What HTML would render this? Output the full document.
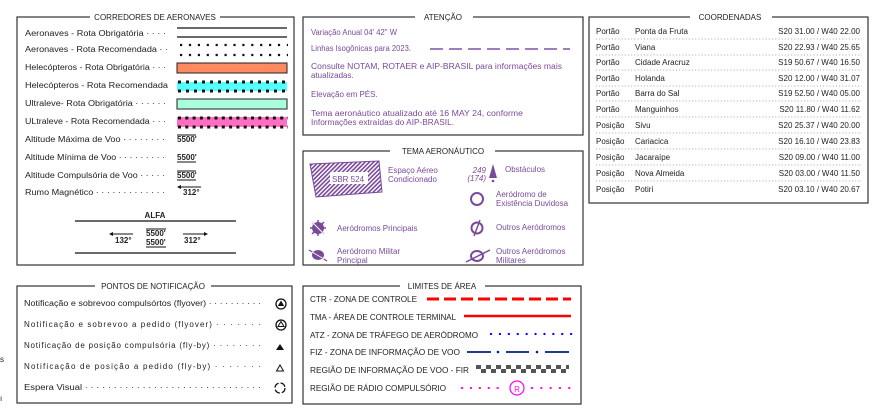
<!DOCTYPE html>
<html><head><meta charset="utf-8"><style>
html,body{margin:0;padding:0;background:#fff;width:876px;height:416px;overflow:hidden}
svg{display:block}
text{font-family:"Liberation Sans",sans-serif;font-size:8px;fill:#222}
.p{fill:#7a4a9a}
.b{font-weight:bold}
</style></head><body>
<svg width="876" height="416" viewBox="0 0 876 416">
<defs>
<pattern id="h" width="3" height="3" patternUnits="userSpaceOnUse" patternTransform="rotate(45)"><rect width="3" height="3" fill="#fff"/><rect width="1.6" height="3" fill="#7a4a9a"/></pattern>
<pattern id="chk" x="476" y="365" width="10" height="8" patternUnits="userSpaceOnUse"><rect width="10" height="8" fill="#fff"/><rect width="5" height="4" fill="#555"/><rect x="5" y="4" width="5" height="4" fill="#555"/></pattern>
</defs>
<g fill="none" stroke="#333" stroke-width="1.2">
<rect x="17" y="17" width="277" height="248"/>
<rect x="303" y="17" width="280" height="118"/>
<rect x="303" y="151" width="280" height="114"/>
<rect x="589" y="17" width="279" height="186"/>
<rect x="17" y="286" width="275" height="117"/>
<rect x="303" y="286" width="278" height="118"/>
</g>
<!-- titles -->
<rect x="90" y="12" width="130" height="10" fill="#fff"/><text x="155" y="20" text-anchor="middle">CORREDORES DE AERONAVES</text>
<rect x="415" y="12" width="58" height="10" fill="#fff"/><text x="443" y="20" text-anchor="middle">ATENÇÃO</text>
<rect x="390" y="146" width="105" height="10" fill="#fff"/><text x="443" y="154" text-anchor="middle">TEMA AERONÁUTICO</text>
<rect x="690" y="12" width="82" height="10" fill="#fff"/><text x="730" y="20" text-anchor="middle">COORDENADAS</text>
<rect x="95" y="281" width="116" height="10" fill="#fff"/><text x="153" y="289" text-anchor="middle">PONTOS DE NOTIFICAÇÃO</text>
<rect x="400" y="281" width="85" height="10" fill="#fff"/><text x="442" y="289" text-anchor="middle">LIMITES DE ÁREA</text>

<!-- corredores -->
<text x="25" y="36" textLength="141" lengthAdjust="spacingAndGlyphs">Aeronaves - Rota Obrigatória · · · ·</text>
<text x="25" y="52" textLength="143" lengthAdjust="spacingAndGlyphs">Aeronaves - Rota Recomendada · ·</text>
<text x="25" y="70" textLength="141" lengthAdjust="spacingAndGlyphs">Helecópteros - Rota Obrigatória · · ·</text>
<text x="25" y="88" textLength="143" lengthAdjust="spacingAndGlyphs">Helecópteros - Rota Recomendada</text>
<text x="25" y="106" textLength="141" lengthAdjust="spacingAndGlyphs">Ultraleve- Rota Obrigatória · · · · · ·</text>
<text x="25" y="124" textLength="141" lengthAdjust="spacingAndGlyphs">ULtraleve - Rota Recomendada · · ·</text>
<text x="25" y="142" textLength="140" lengthAdjust="spacingAndGlyphs">Altitude Máxima de Voo · · · · · · · ·</text>
<text x="25" y="160" textLength="140" lengthAdjust="spacingAndGlyphs">Altitude Mínima de Voo · · · · · · · · ·</text>
<text x="25" y="178" textLength="140" lengthAdjust="spacingAndGlyphs">Altitude Compulsória de Voo · · · · ·</text>
<text x="25" y="195" textLength="140" lengthAdjust="spacingAndGlyphs">Rumo Magnético · · · · · · · · · · · · ·</text>
<g stroke="#111" stroke-width="1.2">
<line x1="177" y1="28" x2="287" y2="28"/><line x1="177" y1="37" x2="287" y2="37"/>
</g>
<line x1="180" y1="45" x2="288" y2="45" stroke="#111" stroke-width="2.2" stroke-dasharray="2.2 6.7"/>
<line x1="180" y1="55" x2="288" y2="55" stroke="#111" stroke-width="2.2" stroke-dasharray="2.2 6.7"/>
<rect x="177" y="63" width="110" height="10" fill="#ff8a60" stroke="#222" stroke-width="1"/>
<rect x="177" y="82" width="110" height="9" fill="#55ffff"/>
<line x1="178" y1="82" x2="288" y2="82" stroke="#111" stroke-width="3" stroke-dasharray="3 5"/>
<line x1="178" y1="91" x2="288" y2="91" stroke="#111" stroke-width="3" stroke-dasharray="3 5"/>
<rect x="177" y="99" width="110" height="10" fill="#aaffdd" stroke="#222" stroke-width="1"/>
<rect x="177" y="117" width="110" height="10" fill="#ff6ec0"/>
<line x1="178" y1="118" x2="288" y2="118" stroke="#111" stroke-width="3" stroke-dasharray="3 4.3"/>
<line x1="178" y1="127" x2="288" y2="127" stroke="#111" stroke-width="3" stroke-dasharray="3 4.3"/>
<text x="177" y="142" class="b" font-size="7">5500'</text><line x1="177" y1="135" x2="196" y2="135" stroke="#111"/>
<text x="177" y="160" class="b" font-size="7">5500'</text><line x1="177" y1="162" x2="196" y2="162" stroke="#111"/>
<text x="177" y="178" class="b" font-size="7">5500'</text><line x1="177" y1="171" x2="196" y2="171" stroke="#111"/><line x1="177" y1="180" x2="196" y2="180" stroke="#111"/>
<line x1="178" y1="187" x2="201" y2="187" stroke="#111"/><path d="M177 187 l4 -2 v4z" fill="#111"/>
<text x="183" y="195" class="b" font-size="7">312°</text>
<text x="155" y="218" class="b" text-anchor="middle" font-size="7">ALFA</text>
<line x1="75" y1="221" x2="236" y2="221" stroke="#111" stroke-width="1.2"/>
<line x1="75" y1="253" x2="236" y2="253" stroke="#111" stroke-width="1.2"/>
<text x="146" y="236" class="b" font-size="7">5500'</text><line x1="146" y1="229" x2="166" y2="229" stroke="#111"/>
<text x="146" y="245" class="b" font-size="7">5500'</text><line x1="146" y1="247" x2="166" y2="247" stroke="#111"/>
<line x1="110" y1="234" x2="133" y2="234" stroke="#111"/><path d="M109 234 l4 -2 v4z" fill="#111"/>
<text x="115" y="243" class="b" font-size="7">132°</text>
<line x1="183" y1="234" x2="206" y2="234" stroke="#111"/><path d="M208 234 l-4 -2 v4z" fill="#111"/>
<text x="184" y="243" class="b" font-size="7">312°</text>

<!-- atencao -->
<text x="311" y="35" class="p" textLength="86" lengthAdjust="spacingAndGlyphs">Variação Anual  04' 42'' W</text>
<text x="311" y="51" class="p" textLength="100" lengthAdjust="spacingAndGlyphs">Linhas Isogônicas para 2023.</text>
<line x1="430" y1="49" x2="570" y2="49" stroke="#a07cc0" stroke-width="2" stroke-dasharray="13 6"/>
<text x="311" y="69" class="p" textLength="251" lengthAdjust="spacingAndGlyphs">Consulte NOTAM, ROTAER e AIP-BRASIL para informações mais</text>
<text x="311" y="78" class="p">atualizadas.</text>
<text x="311" y="97" class="p">Elevação em PÉS.</text>
<text x="311" y="116" class="p" textLength="212" lengthAdjust="spacingAndGlyphs">Tema aeronáutico atualizado até 16 MAY 24, conforme</text>
<text x="311" y="125" class="p" textLength="143" lengthAdjust="spacingAndGlyphs">Informações extraídas do AIP-BRASIL.</text>

<!-- tema -->
<polygon points="310,164 379,161 382,192 316,197" fill="url(#h)" stroke="#7a4a9a"/>
<rect x="330" y="172" width="38" height="12" fill="#fff"/>
<text x="332" y="182" class="p" font-size="9">SBR 524</text>
<text x="388" y="173" class="p">Espaço Aéreo</text>
<text x="388" y="182" class="p">Condicionado</text>
<text x="486" y="173" class="p" font-style="italic" text-anchor="end" font-size="7">249</text>
<text x="486" y="181" class="p" font-style="italic" text-anchor="end" font-size="7">(174)</text>
<path d="M493 164 l-4 14 h8z" fill="#7a4a9a"/><circle cx="493" cy="181" r="1.3" fill="#7a4a9a"/>
<text x="505" y="172" class="p">Obstáculos</text>
<circle cx="477" cy="199" r="6" fill="none" stroke="#7a4a9a" stroke-width="2"/>
<text x="496" y="197" class="p">Aeródromo de</text>
<text x="496" y="206" class="p">Existência Duvidosa</text>
<circle cx="477" cy="228" r="5.5" fill="none" stroke="#7a4a9a" stroke-width="2"/>
<line x1="480" y1="220" x2="474" y2="236" stroke="#7a4a9a" stroke-width="1.5"/>
<text x="496" y="230" class="p">Outros Aeródromos</text>
<ellipse cx="477" cy="256" rx="6" ry="5" fill="none" stroke="#7a4a9a" stroke-width="2"/>
<line x1="466" y1="262" x2="490" y2="250" stroke="#7a4a9a" stroke-width="1.5"/>
<text x="496" y="254" class="p">Outros Aeródromos</text>
<text x="496" y="263" class="p">Militares</text>
<circle cx="318" cy="228" r="6" fill="#7a4a9a"/>
<g stroke="#7a4a9a" stroke-width="1.5"><line x1="318" y1="220" x2="318" y2="236"/><line x1="310" y1="228" x2="326" y2="228"/><line x1="312" y1="222" x2="324" y2="234"/><line x1="324" y1="222" x2="312" y2="234"/></g>
<line x1="311" y1="221" x2="326" y2="236" stroke="#fff" stroke-width="1"/>
<text x="337" y="231" class="p">Aeródromos Principais</text>
<ellipse cx="318" cy="255" rx="6" ry="5" fill="#7a4a9a"/>
<line x1="309" y1="250" x2="327" y2="261" stroke="#7a4a9a" stroke-width="1.3"/>
<line x1="312" y1="252" x2="324" y2="259" stroke="#fff" stroke-width="0.8"/>
<text x="337" y="254" class="p">Aeródromo Militar</text>
<text x="337" y="263" class="p">Principal</text>

<!-- coordenadas -->
<g>
<text x="596" y="34">Portão</text><text x="635" y="34">Ponta da Fruta</text><text x="860" y="34" text-anchor="end">S20 31.00 / W40 22.00</text>
<text x="596" y="50">Portão</text><text x="635" y="50">Viana</text><text x="860" y="50" text-anchor="end">S20 22.93 / W40 25.65</text>
<text x="596" y="65">Portão</text><text x="635" y="65">Cidade Aracruz</text><text x="860" y="65" text-anchor="end">S19 50.67 / W40 16.50</text>
<text x="596" y="81">Portão</text><text x="635" y="81">Holanda</text><text x="860" y="81" text-anchor="end">S20 12.00 / W40 31.07</text>
<text x="596" y="96">Portão</text><text x="635" y="96">Barra do Sal</text><text x="860" y="96" text-anchor="end">S19 52.50 / W40 05.00</text>
<text x="596" y="112">Portão</text><text x="635" y="112">Manguinhos</text><text x="860" y="112" text-anchor="end">S20 11.80 / W40 11.62</text>
<text x="596" y="128">Posição</text><text x="635" y="128">Sivu</text><text x="860" y="128" text-anchor="end">S20 25.37 / W40 20.00</text>
<text x="596" y="144">Posição</text><text x="635" y="144">Cariacica</text><text x="860" y="144" text-anchor="end">S20 16.10 / W40 23.83</text>
<text x="596" y="160">Posição</text><text x="635" y="160">Jacaraípe</text><text x="860" y="160" text-anchor="end">S20 09.00 / W40 11.00</text>
<text x="596" y="176">Posição</text><text x="635" y="176">Nova Almeida</text><text x="860" y="176" text-anchor="end">S20 03.00 / W40 11.50</text>
<text x="596" y="192">Posição</text><text x="635" y="192">Potiri</text><text x="860" y="192" text-anchor="end">S20 03.10 / W40 20.67</text>
</g>
<g stroke="#888" stroke-width="0.8" stroke-dasharray="1 2.2">
<line x1="596" y1="39" x2="862" y2="39"/><line x1="596" y1="55" x2="862" y2="55"/><line x1="596" y1="70" x2="862" y2="70"/><line x1="596" y1="86" x2="862" y2="86"/><line x1="596" y1="101" x2="862" y2="101"/><line x1="596" y1="117" x2="862" y2="117"/><line x1="596" y1="133" x2="862" y2="133"/><line x1="596" y1="149" x2="862" y2="149"/><line x1="596" y1="165" x2="862" y2="165"/><line x1="596" y1="181" x2="862" y2="181"/>
</g>

<!-- pontos -->
<text x="24" y="306" textLength="237" lengthAdjust="spacingAndGlyphs">Notificação e sobrevoo compulsórtos (flyover) · · · · · · · · · ·</text>
<text x="24" y="327" textLength="237" lengthAdjust="spacing">Notificação e sobrevoo a pedido (flyover) · · · · · · ·</text>
<text x="24" y="348" textLength="237" lengthAdjust="spacing">Notificação de posição compulsória (fly-by) · · · · · · · ·</text>
<text x="24" y="369" textLength="237" lengthAdjust="spacing">Notificação de posição a pedido (fly-by) · · · · · · ·</text>
<text x="24" y="390" textLength="237" lengthAdjust="spacingAndGlyphs">Espera Visual · · · · · · · · · · · · · · · · · · · · · · · · · · · · · · ·</text>
<circle cx="281" cy="304" r="5" fill="none" stroke="#111" stroke-width="1.3"/><path d="M281 300.5 l-3.2 5.5 h6.4z" fill="#111"/>
<circle cx="281" cy="325" r="5" fill="none" stroke="#111" stroke-width="1.3"/><path d="M281 321.5 l-3 5 h6z" fill="none" stroke="#111"/>
<path d="M280 344 l-4 6 h8z" fill="#111"/>
<path d="M280 365 l-3.5 6 h7z" fill="none" stroke="#111"/>
<circle cx="280" cy="388" r="5" fill="none" stroke="#111" stroke-width="1.3" stroke-dasharray="6 2"/>

<!-- limites -->
<text x="310" y="302" textLength="107" lengthAdjust="spacingAndGlyphs">CTR - ZONA DE CONTROLE</text>
<line x1="427" y1="299" x2="571" y2="299" stroke="#f00" stroke-width="3" stroke-dasharray="12 5"/>
<text x="310" y="320" textLength="146" lengthAdjust="spacingAndGlyphs">TMA - ÁREA DE CONTROLE TERMINAL</text>
<line x1="464" y1="316" x2="571" y2="316" stroke="#f00" stroke-width="2.5"/>
<text x="310" y="338" textLength="168" lengthAdjust="spacingAndGlyphs">ATZ - ZONA DE TRÁFEGO DE AERÓDROMO</text>
<line x1="491" y1="334" x2="572" y2="334" stroke="#00f" stroke-width="2.2" stroke-linecap="round" stroke-dasharray="0.1 8.8"/>
<text x="310" y="355" textLength="150" lengthAdjust="spacingAndGlyphs">FIZ - ZONA DE INFORMAÇÃO DE VOO</text>
<path d="M467 352 h24 M506 352 h23 M545 352 h24" stroke="#002080" stroke-width="1.8"/>
<circle cx="498" cy="352" r="1.3" fill="#002080"/><circle cx="537" cy="352" r="1.3" fill="#002080"/>
<text x="310" y="373" textLength="159" lengthAdjust="spacingAndGlyphs">REGIÃO DE INFORMAÇÃO DE VOO - FIR</text>
<rect x="476" y="365" width="93" height="8" fill="url(#chk)"/>
<text x="310" y="391" textLength="136" lengthAdjust="spacingAndGlyphs">REGIÃO DE RÁDIO COMPULSÓRIO</text>
<line x1="462" y1="388" x2="498" y2="388" stroke="#f0f" stroke-width="2.2" stroke-linecap="round" stroke-dasharray="0.1 8.8"/>
<line x1="532" y1="388" x2="570" y2="388" stroke="#f0f" stroke-width="2.2" stroke-linecap="round" stroke-dasharray="0.1 9.2"/>
<circle cx="517" cy="388" r="7" fill="none" stroke="#f0f" stroke-width="1.2"/>
<text x="517" y="392" text-anchor="middle" font-size="10" style="fill:#f0f">R</text>

<text x="0" y="362" font-size="7">s</text>
<text x="0" y="401" font-size="7">ı</text>
</svg>
</body></html>
